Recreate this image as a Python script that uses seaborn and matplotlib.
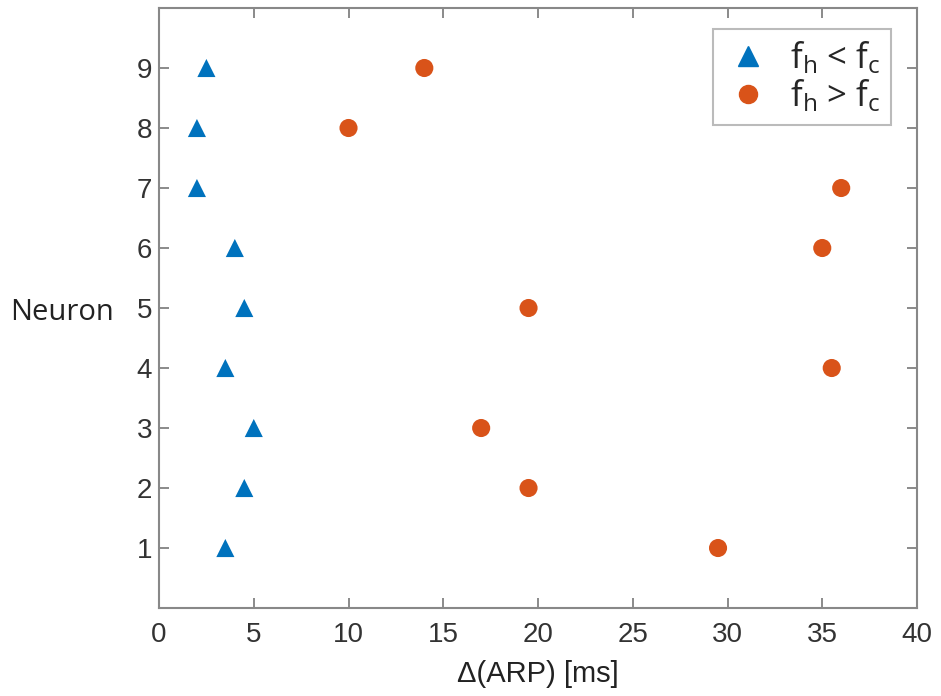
import numpy as np
import pandas as pd
import matplotlib
matplotlib.use("Agg")
import matplotlib.pyplot as plt
import seaborn as sns

# data
neurons = [1, 2, 3, 4, 5, 6, 7, 8, 9]
arp_below = [3.5, 4.5, 5, 3.5, 4.5, 4, 2, 2, 2.5]      # f_h < f_c
arp_above = [29.5, 19.5, 17, 35.5, 19.5, 35, 36, 10, 14]  # f_h > f_c
labels = [r'f$_\mathregular{h}$ < f$_\mathregular{c}$', r'f$_\mathregular{h}$ > f$_\mathregular{c}$']

sns.set_theme(style="white")
plt.rcParams['font.family'] = ['Liberation Sans', 'DejaVu Sans']
plt.rcParams['mathtext.fontset'] = 'custom'
plt.rcParams['mathtext.rm'] = 'Open Sans'
plt.rcParams['mathtext.it'] = 'Open Sans'

df = pd.DataFrame({
    'neuron': neurons * 2,
    'arp': arp_below + arp_above,
    'group': [labels[0]] * len(neurons) + [labels[1]] * len(neurons),
})

fig = plt.figure(figsize=(9.41, 6.96), dpi=100)
ax = fig.add_axes([0.169, 0.1264, 0.8055, 0.8621])

sns.scatterplot(data=df, x='arp', y='neuron', hue='group', style='group',
                markers={labels[0]: '^', labels[1]: 'o'},
                palette={labels[0]: '#0072BD', labels[1]: '#D95319'},
                s=170, linewidth=0, ax=ax, legend=False)

ax.set_xlim(0, 40)
ax.set_ylim(0, 10)
ax.set_xticks(np.arange(0, 41, 5))
ax.set_yticks(neurons)
ax.tick_params(direction='in', top=True, right=True, bottom=True, left=True,
               length=7, width=1.2, color='#777777', labelsize=20,
               labelcolor='#333333', pad=10)
ax.tick_params(axis='y', pad=5)
for sp in ax.spines.values():
    sp.set_color('#888888')
    sp.set_linewidth(1.5)

ax.set_xlabel('Δ(ARP) [ms]', fontsize=21, color='#222222', labelpad=9)
ax.set_ylabel('Neuron', fontsize=21, color='#222222', rotation=0,
              ha='center', va='center', family=['Open Sans', 'DejaVu Sans'])
ax.yaxis.set_label_coords(-0.128, 0.493)

h1 = plt.Line2D([], [], marker='^', color='#0072BD', linestyle='', markersize=15)
h2 = plt.Line2D([], [], marker='o', color='#D95319', linestyle='', markersize=13)
leg = ax.legend([h1, h2], labels, loc='upper right', frameon=True,
                fancybox=False, borderaxespad=0.6, handletextpad=0.5,
                handlelength=1.4, labelspacing=0.05, borderpad=0.3,
                bbox_to_anchor=(0.993, 1.0),
                prop={'family': 'Open Sans', 'size': 25})
leg.get_frame().set_edgecolor('#aaaaaa')
leg.get_frame().set_linewidth(1.5)

fig.savefig('out.png', dpi=100)
